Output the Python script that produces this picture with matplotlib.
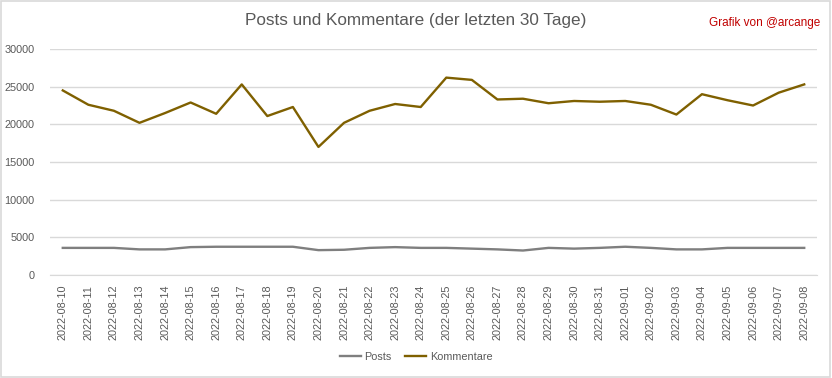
import matplotlib
matplotlib.use("Agg")
import matplotlib.pyplot as plt
from matplotlib.patches import Rectangle

dates = ["2022-08-10", "2022-08-11", "2022-08-12", "2022-08-13", "2022-08-14",
         "2022-08-15", "2022-08-16", "2022-08-17", "2022-08-18", "2022-08-19",
         "2022-08-20", "2022-08-21", "2022-08-22", "2022-08-23", "2022-08-24",
         "2022-08-25", "2022-08-26", "2022-08-27", "2022-08-28", "2022-08-29",
         "2022-08-30", "2022-08-31", "2022-09-01", "2022-09-02", "2022-09-03",
         "2022-09-04", "2022-09-05", "2022-09-06", "2022-09-07", "2022-09-08"]
posts = [3600, 3600, 3600, 3400, 3400, 3700, 3750, 3750, 3750, 3750,
         3300, 3350, 3600, 3700, 3600, 3600, 3500, 3400, 3250, 3600,
         3500, 3600, 3750, 3600, 3400, 3400, 3600, 3600, 3600, 3600]
kommentare = [24500, 22600, 21800, 20200, 21500, 22900, 21400, 25300, 21100, 22300,
              17000, 20200, 21800, 22700, 22300, 26200, 25900, 23300, 23400, 22800,
              23100, 23000, 23100, 22600, 21300, 24000, 23200, 22500, 24200, 25300]
yticks = [0, 5000, 10000, 15000, 20000, 25000, 30000]

plt.rcParams['font.family'] = ['Liberation Sans', 'DejaVu Sans']

fig = plt.figure(figsize=(8.32, 3.78), dpi=100)
fig.patches.append(Rectangle((0.001, 0.002), 0.997, 0.995, transform=fig.transFigure,
                             fill=False, edgecolor="#D9D9D9", linewidth=1.2))
ax = fig.add_axes([50/832, 1-275/378, (817-50)/832, (275-49)/378])

x = list(range(len(dates)))
ax.plot(x, posts, color="#7F7F7F", lw=1.7, label="Posts", solid_joinstyle="round")
ax.plot(x, kommentare, color="#7F6000", lw=1.7, label="Kommentare", solid_joinstyle="round")

ax.set_xlim(-0.5, len(dates) - 0.5)
ax.set_ylim(0, 30000)
ax.set_yticks(yticks)
ax.set_yticklabels([str(v) for v in yticks])
ax.set_xticks(x)
ax.set_xticklabels(dates, rotation=90)
ax.tick_params(axis='both', length=0, labelsize=7.8, colors="#595959")
ax.tick_params(axis='y', pad=11)
ax.tick_params(axis='x', pad=7)
ax.grid(axis='y', color="#D9D9D9", lw=1)
ax.set_axisbelow(True)
for s in ['top', 'right', 'left']:
    ax.spines[s].set_visible(False)
ax.spines['bottom'].set_color("#D9D9D9")

fig.text(416/832, 1-21/378, "Posts und Kommentare (der letzten 30 Tage)", ha='center', va='center',
         fontsize=12.3, color="#595959")
fig.text(820/832, 1-23/378, "Grafik von @arcange", ha='right', va='center',
         fontsize=8.5, color="#C00000")

fig.legend(loc='center', bbox_to_anchor=(416/832, 1-357/378), ncol=2, frameon=False,
           fontsize=7.8, labelcolor="#595959", handlelength=2.0, columnspacing=1.2,
           handletextpad=0.3)

fig.savefig("out.png", dpi=100)
